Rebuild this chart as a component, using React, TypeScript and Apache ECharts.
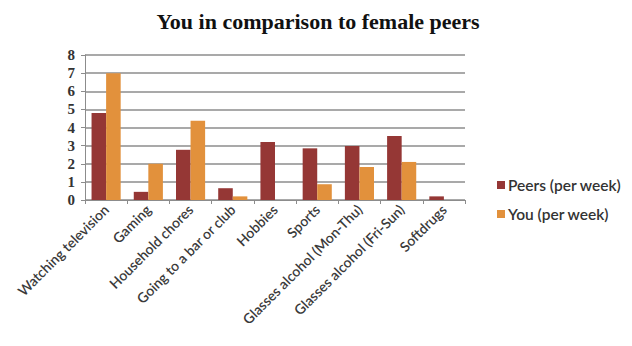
import React, { useEffect, useRef } from "react";
import * as echarts from "echarts";

// Activities compared per week
const categories = [
  "Watching television",
  "Gaming",
  "Household chores",
  "Going to a bar or club",
  "Hobbies",
  "Sports",
  "Glasses alcohol (Mon-Thu)",
  "Glasses alcohol (Fri-Sun)",
  "Softdrugs",
];

const peersPerWeek = [4.8, 0.45, 2.77, 0.65, 3.2, 2.85, 2.98, 3.53, 0.2];
const youPerWeek = [7.0, 2.0, 4.37, 0.2, 0, 0.87, 1.82, 2.1, 0];

const yTicks = { min: 0, max: 8, interval: 1 };

export default function App() {
  const ref = useRef<HTMLDivElement>(null);

  useEffect(() => {
    if (!ref.current) return;
    const chart = echarts.init(ref.current, undefined, { renderer: "svg" });
    chart.setOption({
      animation: false,
      backgroundColor: "#ffffff",
      title: {
        text: "You in comparison to female peers",
        left: 313,
        textAlign: "center",
        top: 5,
        textStyle: {
          fontFamily: "Liberation Serif",
          fontWeight: "bold",
          fontSize: 22,
          color: "#111111",
        },
      },
      legend: {
        orient: "vertical",
        left: 492,
        top: 172,
        itemWidth: 8,
        itemHeight: 8,
        itemGap: 13,
        icon: "rect",
        textStyle: {
          fontFamily: "Lato",
          fontSize: 15.5,
          fontWeight: 600,
          color: "#333333",
          padding: [0, 0, 0, -2],
        },
        data: ["Peers (per week)", "You (per week)"],
      },
      grid: {
        left: 85,
        right: 167,
        top: 55,
        bottom: 146,
        containLabel: false,
      },
      xAxis: {
        type: "category",
        data: categories,
        axisLine: { lineStyle: { color: "#8c8c8c", width: 1 } },
        axisTick: { show: true, length: 4, lineStyle: { color: "#8c8c8c" } },
        axisLabel: {
          rotate: 45,
          interval: 0,
          margin: 7,
          fontFamily: "Lato",
          fontSize: 14,
          fontWeight: 600,
          color: "#3a3a3a",
        },
      },
      yAxis: {
        type: "value",
        min: yTicks.min,
        max: yTicks.max,
        interval: yTicks.interval,
        axisLine: { show: true, lineStyle: { color: "#8c8c8c", width: 1 } },
        axisTick: { show: true, length: 4, lineStyle: { color: "#8c8c8c" } },
        axisLabel: {
          margin: 10,
          fontFamily: "Liberation Serif",
          fontWeight: "bold",
          fontSize: 15,
          color: "#333333",
        },
        splitLine: { show: true, lineStyle: { color: "#8c8c8c", width: 1.5 } },
      },
      series: [
        {
          name: "Peers (per week)",
          type: "bar",
          data: peersPerWeek,
          barGap: "0%",
          barCategoryGap: "31%",
          itemStyle: { color: "#953735" },
        },
        {
          name: "You (per week)",
          type: "bar",
          data: youPerWeek,
          itemStyle: { color: "#e2913c" },
        },
      ],
    });
    return () => chart.dispose();
  }, []);

  return <div ref={ref} style={{ width: 632, height: 346, margin: -8 }} />;
}
